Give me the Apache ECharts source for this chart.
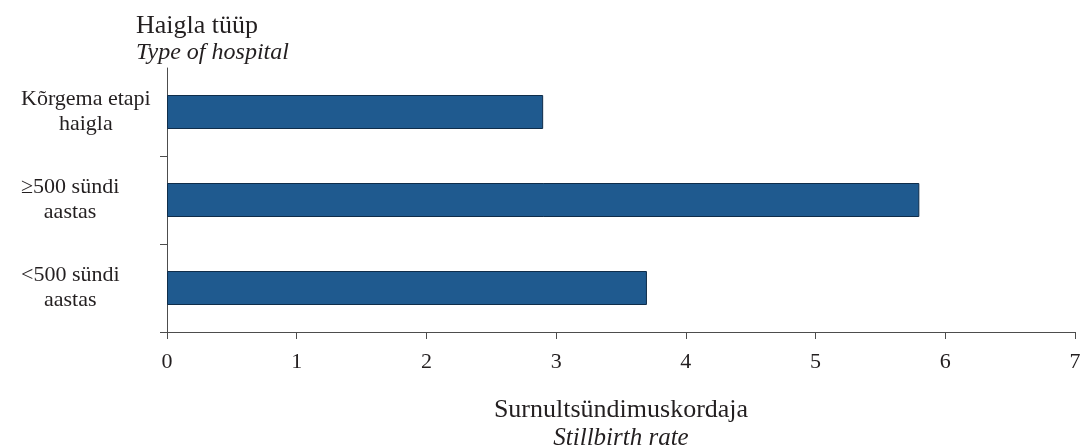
<!DOCTYPE html>
<html>
<head>
	<meta charset="utf-8">
	<script src="https://cdn.jsdelivr.net/npm/echarts@6/dist/echarts.min.js"></script>
	<style>
		html, body { margin: 0; padding: 0; background: #fff; }
		#container { width: 1082px; height: 448px; }
	</style>
</head>
<body>
	<div id="container"></div>
	<script type="text/javascript">
		// andmed / data
		var categories = ['Kõrgema etapi\nhaigla', '≥500 sündi\naastas', '<500 sündi\naastas'];
		var stillbirthRate = [2.9, 5.8, 3.7];
		var xTicks = [0, 1, 2, 3, 4, 5, 6, 7];

		var FONT = '"Liberation Serif", "Times New Roman", serif';
		var TXT = '#231f20';
		var AXIS = '#4d4d4d';
		var dom = document.getElementById("container");
		var myChart = echarts.init(dom);

		var option = {
			animation: false,
			textStyle: { fontFamily: FONT, color: TXT },
			title: [{
				left: 136,
				top: 13,
				padding: 0,
				text: 'Haigla tüüp',
				textStyle: { fontFamily: FONT, fontSize: 26, fontWeight: 'normal', color: TXT }
			}, {
				left: 136,
				top: 41,
				padding: 0,
				text: 'Type of hospital',
				textStyle: { fontFamily: FONT, fontSize: 24, fontStyle: 'italic', fontWeight: 'normal', color: TXT }
			}],
			grid: {
				left: 167,
				right: 7,
				top: 68,
				bottom: 116,
				containLabel: false,
				outerBoundsMode: 'none'
			},
			xAxis: {
				type: 'value',
				min: xTicks[0],
				max: xTicks[xTicks.length - 1],
				interval: 1,
				splitLine: { show: false },
				axisLine: { show: true, lineStyle: { color: AXIS, width: 1 } },
				axisTick: { show: true, length: 7, lineStyle: { color: AXIS } },
				axisLabel: { fontFamily: FONT, fontSize: 22, color: TXT, margin: 19 },
				name: '{a|Surnultsündimuskordaja}\n{b|Stillbirth rate}',
				nameLocation: 'middle',
				nameGap: 64,
				nameTextStyle: {
					rich: {
						a: { fontFamily: FONT, fontSize: 26, color: TXT, lineHeight: 28 },
						b: { fontFamily: FONT, fontSize: 25, fontStyle: 'italic', color: TXT, lineHeight: 28 }
					}
				}
			},
			yAxis: {
				type: 'category',
				inverse: true,
				data: categories,
				axisLine: { show: true, lineStyle: { color: AXIS, width: 1 } },
				// no tick on the top end of the axis
				axisTick: {
					show: true,
					length: 7,
					interval: function (i) { return i > 0; },
					lineStyle: { color: AXIS }
				},
				axisLabel: {
					align: 'left',
					margin: 146,
					formatter: function (v) {
						return v.split('\n').map(function (s) { return '{c|' + s + '}'; }).join('\n');
					},
					rich: {
						c: { fontFamily: FONT, fontSize: 22, color: TXT, lineHeight: 25, align: 'center' }
					}
				}
			},
			series: [{
				type: 'bar',
				data: stillbirthRate,
				barWidth: 34,
				itemStyle: {
					color: '#1f5a8f',
					borderColor: '#0f2d4a',
					borderWidth: 1
				}
			}]
		};

		myChart.setOption(option, true);
	</script>
</body>
</html>
